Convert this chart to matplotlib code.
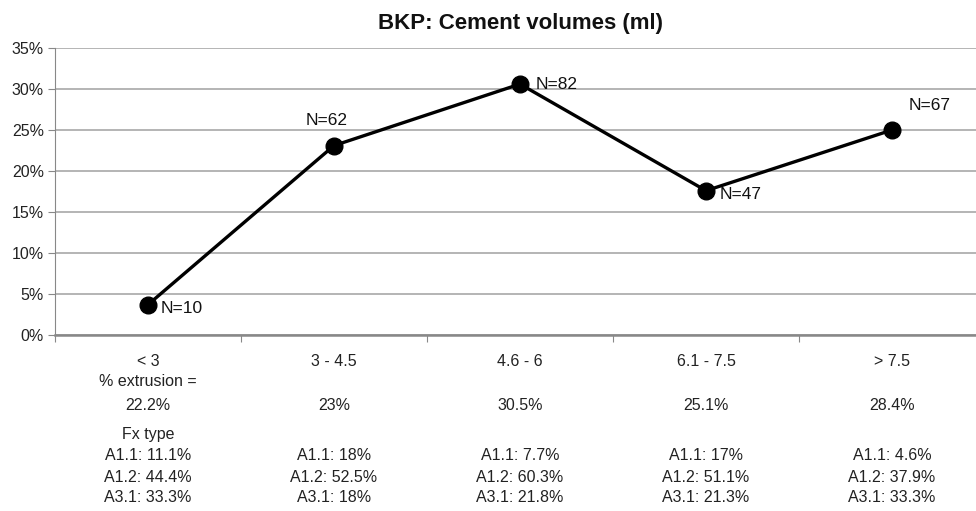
import matplotlib.pyplot as plt
from matplotlib.transforms import blended_transform_factory
import numpy as np

# data
categories = ['< 3', '3 - 4.5', '4.6 - 6', '6.1 - 7.5', '> 7.5']
percent = [3.7, 23.1, 30.6, 17.6, 25.0]
n_labels = ['N=10', 'N=62', 'N=82', 'N=47', 'N=67']
extrusion = ['22.2%', '23%', '30.5%', '25.1%', '28.4%']
a11 = ['11.1%', '18%', '7.7%', '17%', '4.6%']
a12 = ['44.4%', '52.5%', '60.3%', '51.1%', '37.9%']
a31 = ['33.3%', '18%', '21.8%', '21.3%', '33.3%']
y_ticks = [0, 5, 10, 15, 20, 25, 30, 35]

plt.rcParams['font.family'] = ['Liberation Sans', 'DejaVu Sans']

fig = plt.figure(figsize=(9.76, 5.11), dpi=100)
ax = fig.add_axes([55 / 976, 1 - 335 / 511, 930 / 976, 287 / 511])

x = np.arange(len(categories))
ax.plot(x, percent, color='black', lw=2.4, marker='o', ms=12, zorder=3, clip_on=False)

# N labels next to each point (offsets in points)
offsets = [(9, -3), (-5, 18), (11, 0), (10, -3), (12, 18)]
has = ['left', 'center', 'left', 'left', 'left']
for xi, yi, lab, off, ha in zip(x, percent, n_labels, offsets, has):
    ax.annotate(lab, (xi, yi), xytext=off, textcoords='offset points',
                ha=ha, va='center', fontsize=12.5, color='#111111')

ax.set_xlim(-0.5, len(categories) - 0.5)
ax.set_ylim(0, 35)
ax.set_yticks(y_ticks)
ax.set_yticklabels([f'{v}%' for v in y_ticks], fontsize=11.5, color='#222222')
ax.yaxis.grid(True, color='#a8a8a8', lw=1.2)
ax.set_axisbelow(True)

ax.set_xticks(np.arange(-0.5, len(categories)))
ax.set_xticklabels([])
ax.tick_params(axis='x', length=5, color='#888888', direction='out')
ax.tick_params(axis='y', length=5, color='#888888', direction='out', pad=3)

for s in ['top', 'right']:
    ax.spines[s].set_visible(False)
ax.spines['left'].set_color('#888888')
ax.spines['bottom'].set_color('#888888')
ax.spines['bottom'].set_linewidth(1.8)

fig.text(520 / 976, 1 - 24 / 511, 'BKP: Cement volumes (ml)', ha='center', va='center',
         fontsize=16, fontweight='bold', color='#111111')

# text rows under the axis (y in pixels of the figure)
trans = blended_transform_factory(ax.transData, fig.transFigure)
def row(y_px, texts):
    for xi, t in zip(x, texts):
        if t:
            ax.text(xi, 1 - y_px / 511, t, transform=trans, ha='center', va='center',
                    fontsize=11.5, color='#222222')

row(361, categories)
row(382, ['% extrusion =', '', '', '', ''])
row(405, extrusion)
row(434, ['Fx type', '', '', '', ''])
row(456, [f'A1.1: {v}' for v in a11])
row(477, [f'A1.2: {v}' for v in a12])
row(497, [f'A3.1: {v}' for v in a31])

fig.savefig('out.png', dpi=100)
